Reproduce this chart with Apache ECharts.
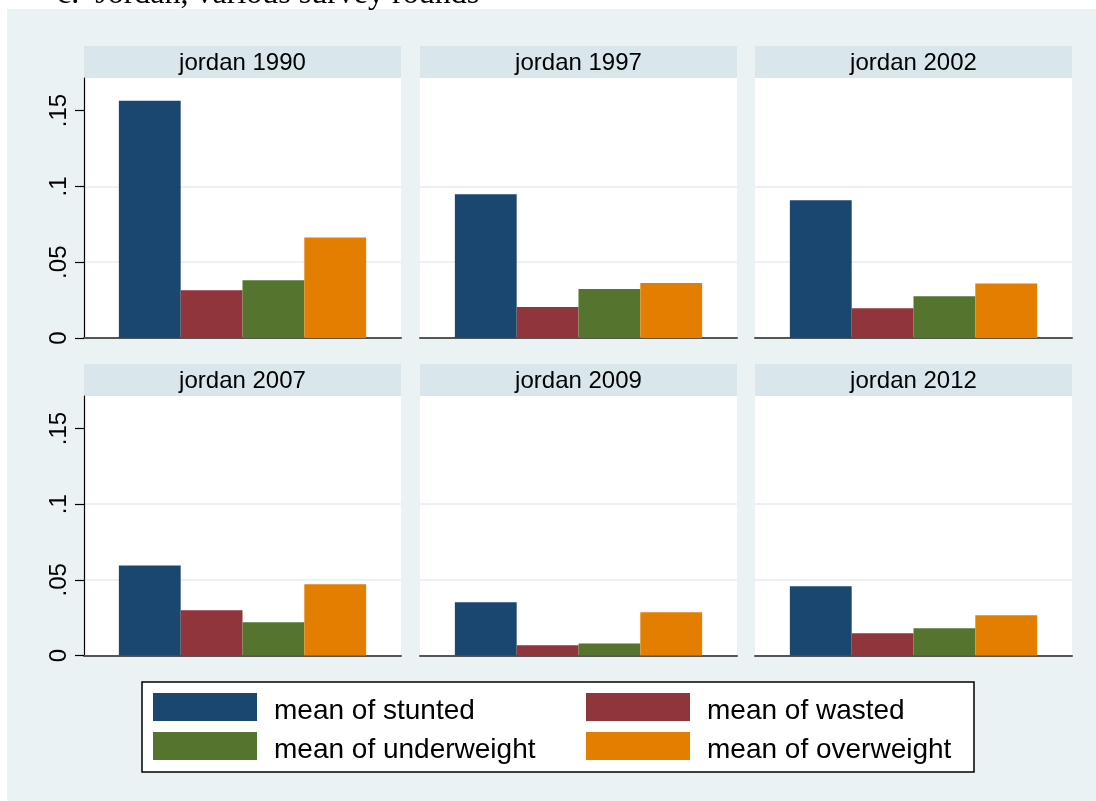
<!DOCTYPE html>
<html>
<head>
<meta charset="utf-8">
<script src="https://cdn.jsdelivr.net/npm/echarts@6/dist/echarts.min.js"></script>
<style>
  html, body { margin: 0; padding: 0; background: #ffffff; }
  #chart { width: 1096px; height: 801px; }
</style>
</head>
<body>
<div id="chart"></div>
<script>
// Survey rounds, one panel each
const rounds = ['jordan 1990', 'jordan 1997', 'jordan 2002', 'jordan 2007', 'jordan 2009', 'jordan 2012'];

// Share of children in each category, by round
const stunted     = [0.1565, 0.0949, 0.0909, 0.0594, 0.0352, 0.0458];
const wasted      = [0.0315, 0.0205, 0.0196, 0.0299, 0.0068, 0.0147];
const underweight = [0.0381, 0.0324, 0.0275, 0.0220, 0.0079, 0.0180];
const overweight  = [0.0663, 0.0363, 0.0359, 0.0471, 0.0286, 0.0266];

const seriesNames = ['mean of stunted', 'mean of wasted', 'mean of underweight', 'mean of overweight'];
const seriesValues = [stunted, wasted, underweight, overweight];
const seriesColors = ['#1a476f', '#90353b', '#55752f', '#e37e00'];

// Y axis ticks
const yTicks = [0, 0.05, 0.1, 0.15];
const yMax = 0.1715;

const titleText = 'c.  Jordan, various survey rounds';

const FONT = '"Liberation Sans", Arial, Helvetica, sans-serif';

// Panel layout
const colLeft = [84, 420, 755];
const panelW = 317;
const rowHeaderTop = [46, 364];
const headerH = 32;
const plotH = [260, 259.5];

const chart = echarts.init(document.getElementById('chart'), null, { renderer: 'canvas' });

const grids = [], xAxes = [], yAxes = [], series = [], graphics = [];

// Outer background and title
graphics.push({
  type: 'rect', silent: true, z: -10,
  shape: { x: 7, y: 9, width: 1096 - 7, height: 801 - 9 },
  style: { fill: '#eaf2f3' }
});
graphics.push({
  type: 'text', silent: true,
  x: 57, y: 11,
  style: {
    text: titleText, fill: '#000',
    font: '32px "Liberation Serif", "Times New Roman", serif',
    verticalAlign: 'bottom', align: 'left'
  }
});

rounds.forEach(function (name, i) {
  const col = i % 3, row = Math.floor(i / 3);
  const left = colLeft[col];
  const top = rowHeaderTop[row] + headerH;

  // Panel header strip
  graphics.push({
    type: 'rect', silent: true,
    shape: { x: left, y: rowHeaderTop[row], width: panelW, height: headerH },
    style: { fill: '#d9e6eb' }
  });
  graphics.push({
    type: 'text', silent: true,
    x: left + panelW / 2, y: rowHeaderTop[row] + headerH / 2 + 1,
    style: {
      text: name, fill: '#000', font: '24px ' + FONT,
      align: 'center', verticalAlign: 'middle'
    }
  });

  grids.push({
    left: left, top: top, width: panelW, height: plotH[row],
    show: true, backgroundColor: '#ffffff', borderWidth: 0
  });

  xAxes.push({
    gridIndex: i, type: 'category', data: [name],
    axisLine: { show: true, lineStyle: { color: '#555555', width: 2 } },
    axisTick: { show: false }, axisLabel: { show: false }, splitLine: { show: false }
  });

  const first = col === 0;
  yAxes.push({
    gridIndex: i, type: 'value', min: 0, max: yMax, interval: 0.05,
    axisLine: { show: first, lineStyle: { color: '#000000', width: 1.2 } },
    axisTick: { show: first, length: 9, customValues: yTicks, lineStyle: { color: '#000000', width: 1.2 } },
    axisLabel: {
      show: first, customValues: yTicks, rotate: 90, margin: 13,
      fontSize: 24, fontFamily: FONT, color: '#000',
      formatter: function (v) { return v === 0 ? '0' : String(+v.toFixed(2)).replace(/^0/, ''); }
    },
    splitLine: { show: true, showMinLine: false, showMaxLine: false, lineStyle: { color: '#eaf2f3', width: 2 } }
  });

  seriesNames.forEach(function (sn, k) {
    series.push({
      type: 'bar', name: sn, xAxisIndex: i, yAxisIndex: i,
      data: [seriesValues[k][i]],
      barGap: '0%', barCategoryGap: '22%',
      itemStyle: { color: seriesColors[k] },
      silent: true, animation: false
    });
  });
});

// Legend frame
graphics.push({
  type: 'rect', silent: true, z: -1,
  shape: { x: 142, y: 682, width: 832, height: 90 },
  style: { fill: '#ffffff', stroke: '#000000', lineWidth: 1.5 }
});

const legendCommon = {
  orient: 'vertical', icon: 'rect', itemWidth: 104, itemHeight: 28, itemGap: 3,
  selectedMode: false, top: 689, padding: 0,
  formatter: '{t|{name}}',
  textStyle: {
    color: '#000',
    rich: { t: { fontSize: 28, fontFamily: FONT, color: '#000', lineHeight: 28, padding: [8, 0, 0, 12] } }
  }
};

chart.setOption({
  animation: false,
  color: seriesColors,
  graphic: graphics,
  grid: grids,
  xAxis: xAxes,
  yAxis: yAxes,
  legend: [
    Object.assign({ left: 153, data: ['mean of stunted', 'mean of underweight'] }, legendCommon),
    Object.assign({ left: 586, data: ['mean of wasted', 'mean of overweight'] }, legendCommon)
  ],
  series: series
});
</script>
</body>
</html>
